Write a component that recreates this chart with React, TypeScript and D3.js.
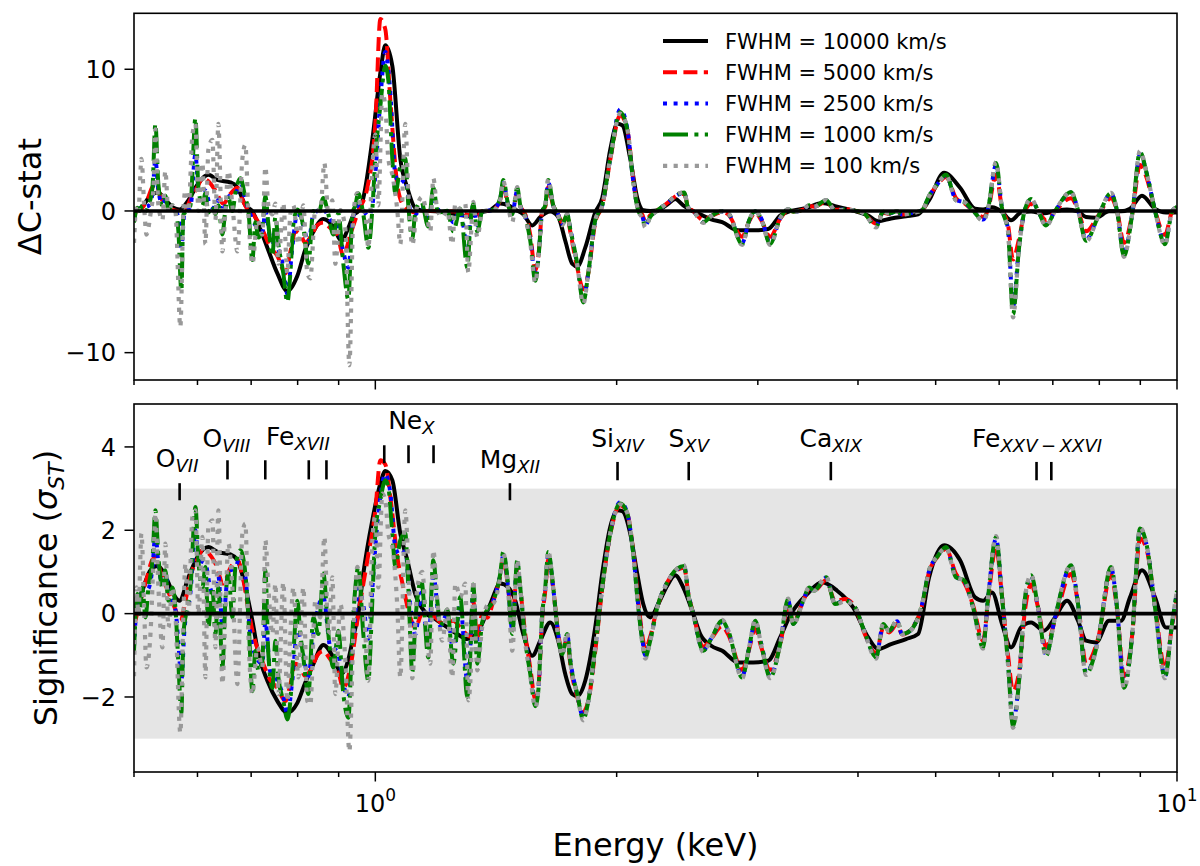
import * as d3 from "d3";

// [energy keV, significance σ]
const BLACK: [number, number][] = [
  [0.5, 0.1], [0.5108, 0.5], [0.5242, 1.04], [0.5348, 1.14], [0.5503, 0.8], [0.5599, 0.47],
  [0.5696, 0.31], [0.5846, 0.87], [0.5999, 1.36], [0.6191, 1.6], [0.6353, 1.48], [0.6595, 1.42],
  [0.6729, 1.29], [0.6885, 0.63], [0.7025, -0.17], [0.7147, -0.97], [0.7334, -1.61], [0.7548, -2.1],
  [0.7767, -2.38], [0.7994, -2.14], [0.8179, -1.65], [0.8369, -1.21], [0.8613, -0.75], [0.8864, -1.05],
  [0.907, -1.45], [0.9254, -1.1], [0.9388, -0.55], [0.9524, 0], [0.9661, 0.96], [0.9914, 2.24],
  [1.0145, 3.12], [1.0291, 3.42], [1.05, 3.2], [1.0744, 1.92], [1.0962, 1.28], [1.1217, 0.47],
  [1.1544, 0.03], [1.188, -0.13], [1.2296, -0.33], [1.2655, -0.49], [1.3023, -0.61], [1.3249, -0.55],
  [1.3518, -0.33], [1.3912, 0.23], [1.4317, 0.72], [1.465, 0.63], [1.4947, 0.31], [1.5295, -0.49],
  [1.5695, -1.01], [1.606, -0.65], [1.6527, -0.21], [1.6911, -0.65], [1.7255, -1.45], [1.7605, -1.93],
  [1.786, -1.98], [1.8275, -1.61], [1.8807, -0.33], [1.9189, 0.96], [1.9635, 2.08], [2.0034, 2.48],
  [2.0324, 2.46], [2.0796, 1.92], [2.1218, 0.96], [2.1587, 0.23], [2.2025, -0.09], [2.2537, 0.23],
  [2.3127, 0.67], [2.3664, 0.92], [2.4213, 0.63], [2.4847, 0.07], [2.5424, -0.49], [2.624, -0.77],
  [2.7082, -0.89], [2.8354, -1.17], [2.9602, -1.17], [3.0904, -1.13], [3.1988, -0.57], [3.3014, 0],
  [3.4566, 0.47], [3.6087, 0.75], [3.7675, 0.55], [3.9446, 0.15], [4.1182, -0.57], [4.2381, -0.85],
  [4.3993, -0.73], [4.5929, -0.61], [4.7538, -0.49], [4.9064, 0.87], [5.1223, 1.64], [5.3631, 1.28],
  [5.599, 0.39], [5.7291, 0.31], [5.8791, 0.51], [6.0503, -0.25], [6.2087, -0.81], [6.3895, -0.33],
  [6.5757, -0.21], [6.8257, -0.41], [7.0447, -0.09], [7.2917, 0.31], [7.5257, -0.17], [7.7005, -0.65],
  [7.9248, -0.69], [8.226, -0.17], [8.5144, -0.17], [8.7373, 0.39], [9.0435, 1.04], [9.3874, 0.39],
  [9.6886, -0.33], [10.0, -0.33],
];

// below ~1.3 keV each narrower width has its own wiggles
const RED_LO: [number, number][] = [
  [0.5, -0.3], [0.5093, 0.3], [0.5197, 0.9], [0.5272, 1.3], [0.5333, 1.36], [0.5394, 1.0],
  [0.5471, 0.7], [0.5551, 0.4], [0.5631, 0.1], [0.5712, -0.17], [0.5796, 0.3], [0.588, 0.9],
  [0.5999, 1.3], [0.6086, 1.52], [0.6191, 1.45], [0.6317, 1.2], [0.6463, 0.72], [0.6595, 1.1],
  [0.6729, 1.28], [0.6846, 0.8], [0.6945, 0.1], [0.7025, -0.41], [0.7147, -0.9], [0.725, -1.21],
  [0.7397, -1.6], [0.7548, -1.78], [0.7723, -2.1], [0.7834, -1.7], [0.7948, -1.2], [0.8063, -1.29],
  [0.8179, -1.5], [0.8297, -1.37], [0.8466, -1.0], [0.8613, -0.9], [0.8788, -1.1], [0.8966, -1.29],
  [0.9122, -1.78], [0.9307, -1.29], [0.9524, 0], [0.9773, 1.28], [1.0, 2.48], [1.0145, 3.68],
  [1.0291, 3.58], [1.044, 2.8], [1.0652, 1.36], [1.0837, 0.63], [1.1057, -0.09], [1.1217, -0.33],
  [1.1445, 0], [1.1644, 0], [1.188, -0.09], [1.2156, -0.25], [1.2511, -0.17], [1.2764, -0.33],
  [1.3136, -0.55],
];

const BLUE_LO: [number, number][] = [
  [0.5, -0.8], [0.5049, 0.3], [0.5123, 0.5], [0.5212, 0.6], [0.5272, 1.1], [0.5317, 1.9],
  [0.5363, 1.2], [0.5425, 0.7], [0.5471, 0.9], [0.5551, 0.4], [0.5631, 0.1], [0.568, -0.7],
  [0.5729, -1.6], [0.5779, -0.4], [0.588, 0.5], [0.5965, 2.0], [0.6016, 1.3], [0.6138, 1.2],
  [0.6227, 0.6], [0.6317, 0.4], [0.6371, 0.9], [0.6445, -0.3], [0.6557, 1.0], [0.669, 1.1],
  [0.6787, 1.4], [0.6885, 0.9], [0.6985, -0.5], [0.7086, -1.0], [0.7229, -1.2], [0.7292, -0.2],
  [0.7397, -1.4], [0.7548, -1.6], [0.7678, -2.0], [0.7767, -2.42], [0.7879, -1.6], [0.7994, -0.4],
  [0.8132, -1.0], [0.825, -1.5], [0.8369, -0.5], [0.8613, 0.4], [0.8788, -0.8], [0.8966, -0.9],
  [0.9122, -1.7], [0.9254, -2.0], [0.9388, -0.6], [0.9524, 0.6], [0.9661, 0.2], [0.9801, -0.6],
  [0.9914, 0.6], [1.0, 1.6], [1.0145, 2.8], [1.0291, 3.35], [1.044, 2.9], [1.0591, 1.6],
  [1.0744, 1.4], [1.0899, 1.5], [1.1057, 0.2], [1.1217, -0.5], [1.1412, 0.5], [1.1644, -0.7],
  [1.1812, 0.9], [1.2052, -0.3], [1.2296, 0], [1.2511, -0.9], [1.2764, 0.2], [1.3023, -1.6],
  [1.3136, -0.8],
];

const GREEN_LO: [number, number][] = [
  [0.5, -0.9], [0.5049, 0.47], [0.5079, 0], [0.5123, 0.63], [0.5167, -0.09], [0.5212, 0.63],
  [0.5272, 1.28], [0.5317, 2.48], [0.5363, 1.36], [0.5425, 0.63], [0.5471, 1.04], [0.5519, 0.31],
  [0.5583, 0.63], [0.5631, 0.15], [0.568, -1.2], [0.5729, -2.38], [0.5762, -0.49], [0.5829, 0.15],
  [0.588, 0.63], [0.5965, 2.56], [0.6016, 1.28], [0.6086, 0.63], [0.6138, 1.12], [0.6191, -0.33],
  [0.6263, 0.63], [0.6317, -0.49], [0.6371, 0.63], [0.6445, -1.29], [0.6501, 0.31], [0.6557, 0.96],
  [0.6633, -0.09], [0.669, 1.12], [0.6787, 1.52], [0.6885, 0.96], [0.6945, -0.09], [0.7025, -1.86],
  [0.7086, -0.89], [0.7147, -1.37], [0.7229, -1.13], [0.7292, 1.04], [0.7355, -0.97], [0.744, -1.78],
  [0.7505, -0.65], [0.757, -1.53], [0.7678, -2.1], [0.7767, -2.54], [0.7834, -2.1], [0.7903, -0.97],
  [0.7994, 0.31], [0.8063, -0.49], [0.8132, -1.05], [0.825, -1.93], [0.8369, -0.09], [0.849, -0.49],
  [0.8613, 0.96], [0.8738, -0.49], [0.8864, -1.29], [0.8992, -0.41], [0.9122, -1.93], [0.9254, -2.5],
  [0.9361, -0.49], [0.9442, 0.63], [0.9524, 1.12], [0.9661, -0.49], [0.9801, -1.61], [0.9914, 0.31],
  [1.0, 1.92], [1.0145, 2.72], [1.0291, 3.2], [1.038, 3.04], [1.05, 1.92], [1.0591, 1.12],
  [1.0744, 1.76], [1.0899, 1.92], [1.0994, 0.63], [1.1121, -1.4], [1.1217, -0.2], [1.1412, 0.8],
  [1.1644, -1.05], [1.1812, 1.28], [1.1948, 0.31], [1.2052, -0.3], [1.2296, 0.1], [1.2511, -1.2],
  [1.2764, 0.4], [1.3023, -2.0], [1.3136, -1.0],
];

const GRAY_LO: [number, number][] = [
  [0.5, -1.5], [0.5035, 0.63], [0.5064, 0], [0.5108, 1.92], [0.5152, -0.1], [0.5182, -1.29],
  [0.5242, -0.49], [0.5287, 1.28], [0.5317, 2.4], [0.5363, 0.63], [0.5425, -0.81], [0.5471, 1.68],
  [0.5519, -0.33], [0.5583, 0.63], [0.5631, 0], [0.5712, -2.86], [0.5762, 0], [0.5796, 1.2],
  [0.5846, 0], [0.5914, 2.32], [0.5965, 2.48], [0.6016, 0], [0.6086, 1.84], [0.6138, -1.53],
  [0.6191, 2.08], [0.6263, 2.24], [0.6317, -0.81], [0.6371, 2.48], [0.6445, -1.69], [0.6501, 0],
  [0.6557, 1.68], [0.6633, 0.63], [0.6729, -1.69], [0.6826, 1.92], [0.6885, 2.16], [0.6945, -0.49],
  [0.7025, -1.93], [0.7127, -0.81], [0.7229, -1.29], [0.7292, 1.76], [0.7355, 0.63], [0.744, -0.49],
  [0.7505, 0.72], [0.757, -1.93], [0.7678, 0.75], [0.7767, -2.1], [0.7834, -0.49], [0.7903, 0.63],
  [0.8017, -1.53], [0.8132, 0.63], [0.8226, -2.1], [0.8297, -2.18], [0.8417, 0.31], [0.8539, -0.09],
  [0.8638, 1.84], [0.8738, -0.49], [0.8839, 0.87], [0.8915, -1.93], [0.9044, 0.23], [0.9175, -1.13],
  [0.9281, -3.3], [0.9388, -0.49], [0.9497, 1.12], [0.9579, 0.63], [0.9717, -0.49], [0.9801, -1.61],
  [0.9914, 1.76], [1.0, 2.32], [1.0087, 0.63], [1.0203, 2.88], [1.0291, 2.72], [1.038, 1.92],
  [1.05, 1.6], [1.0652, 0.15], [1.0744, -1.53], [1.0899, 2.48], [1.0994, 1.12], [1.1121, -1.55],
  [1.1282, 0.63], [1.1445, 1.0], [1.1577, -0.3], [1.1711, -1.2], [1.1812, 1.52], [1.1948, 0.31],
  [1.2121, -0.65], [1.2296, 0.1], [1.2475, -1.53], [1.2582, 0.72], [1.2764, 0.4], [1.2948, 0.72],
  [1.306, -2.08], [1.3211, -0.4],
];

// above ~1.3 keV the narrower widths share one energy grid
const E_HI = [
  1.3249, 1.3402, 1.3596, 1.3793, 1.4033, 1.4317, 1.4441, 1.465, 1.4819, 1.5033,
  1.5163, 1.5383, 1.5605, 1.5831, 1.5968, 1.6152, 1.6292, 1.6433, 1.6671, 1.6863,
  1.7107, 1.7354, 1.7504, 1.786, 1.8172, 1.8434, 1.8807, 1.9189, 1.9635, 2.0207,
  2.0617, 2.0975, 2.1279, 2.1525, 2.1711, 2.2025, 2.2473, 2.3127, 2.38, 2.4282,
  2.4563, 2.4918, 2.5644, 2.624, 2.7082, 2.7552, 2.8682, 2.9264, 2.9772, 3.029,
  3.1082, 3.1988, 3.2731, 3.3204, 3.4172, 3.4766, 3.5269, 3.6505, 3.7459, 3.855,
  3.9673, 4.0712, 4.2139, 4.3, 4.3741, 4.4761, 4.5408, 4.6463, 4.8092, 4.9064,
  5.0203, 5.1518, 5.3019, 5.425, 5.567, 5.7291, 5.8119, 5.9469, 6.0503, 6.1554,
  6.2444, 6.353, 6.4634, 6.5757, 6.7091, 6.865, 7.0447, 7.3759, 7.5257, 7.7005,
  7.9705, 8.2734, 8.4172, 8.5881, 8.7876, 8.9929, 9.1755, 9.3874, 9.6607, 9.8568,
  10.0,
];

const RED_HI = [
  0.3, -0.6, 0.0, -0.1, 0.3, 0.9, 1.3, 0.6, -0.3, 1.1,
  0.6, -0.5, -1.3, -2.05, -1.8, -0.1, 0.55, 1.3, 0.6, -0.3,
  -0.9, -0.6, -1.2, -2.0, -2.35, -2.1, -0.9, 0.6, 1.9, 2.6,
  2.4, 1.5, 0.3, -0.5, -0.85, -0.55, 0.15, 0.75, 1.05, 1.1,
  0.5, 0, -0.8, -0.6, -0.3, -0.5, -1.35, -0.85, -0.35, -0.8,
  -1.35, -0.75, 0.2, -0.2, 0.3, 0.6, 0.55, 0.8, 0.3, 0.35,
  0.15, -0.45, -0.95, -0.35, -0.45, -0.25, -0.5, -0.4, 0.2, 1.0,
  1.35, 1.55, 0.95, 0.75, 0.2, -0.65, 0.3, 1.6, 0.4, -1.0,
  -1.85, -1.4, 0.1, 0.7, 0.15, -0.8, -0.15, 0.95, 0.25, -1.2,
  -0.6, 0.95, 0.1, -1.5, -0.55, 1.8, 1.5, 0.2, -1.3, -0.3,
  0.4,
];

const BLUE_HI = [
  0.6, -1.0, -0.2, 0.1, 0.3, 0.95, 1.4, 0.6, -0.4, 1.2,
  0.6, -0.6, -1.4, -2.15, -1.85, 0, 0.6, 1.42, 0.6, -0.3,
  -0.95, -0.5, -1.1, -1.95, -2.48, -2.1, -0.82, 0.62, 1.92, 2.68,
  2.42, 1.45, 0.2, -0.6, -1.0, -0.62, 0.15, 0.75, 1.06, 1.14,
  0.5, 0, -0.88, -0.6, -0.2, -0.42, -1.5, -0.82, -0.2, -0.72,
  -1.5, -0.72, 0.32, -0.24, 0.3, 0.62, 0.55, 0.86, 0.24, 0.32,
  0.15, -0.42, -1.02, -0.28, -0.42, -0.18, -0.5, -0.41, 0.23, 1.02,
  1.36, 1.58, 0.88, 0.78, 0.15, -0.78, 0.38, 1.8, 0.4, -1.15,
  -2.6, -1.58, 0.35, 0.9, 0.15, -0.98, -0.1, 1.14, 0.24, -1.42,
  -0.64, 1.1, 0.14, -1.74, -0.56, 2.0, 1.6, 0.16, -1.5, -0.26,
  0.52,
];

const GREEN_HI = [
  0.7, -1.2, -0.2, 0.1, 0.31, 0.96, 1.48, 0.63, -0.49, 1.28,
  0.63, -0.65, -1.45, -2.22, -1.86, 0, 0.63, 1.48, 0.63, -0.33,
  -0.97, -0.49, -1.13, -1.93, -2.54, -2.1, -0.81, 0.63, 1.92, 2.64,
  2.4, 1.44, 0.15, -0.65, -1.05, -0.65, 0.15, 0.75, 1.08, 1.14,
  0.47, 0, -0.89, -0.6, -0.17, -0.41, -1.53, -0.81, -0.17, -0.73,
  -1.53, -0.73, 0.35, -0.25, 0.31, 0.63, 0.55, 0.87, 0.23, 0.31,
  0.15, -0.41, -1.05, -0.25, -0.41, -0.17, -0.49, -0.41, 0.23, 1.04,
  1.36, 1.6, 0.87, 0.8, 0.15, -0.81, 0.39, 1.84, 0.39, -1.21,
  -2.7, -1.61, 0.39, 0.92, 0.15, -1.01, -0.09, 1.16, 0.23, -1.45,
  -0.65, 1.12, 0.15, -1.78, -0.57, 2.04, 1.6, 0.15, -1.53, -0.25,
  0.55,
];

const GRAY_HI = [
  0.8, -1.36, -0.3, 0.2, 0.25, 0.9, 1.45, 0.5, -0.89, 1.3,
  0.6, -0.7, -1.5, -2.25, -1.85, 0.05, 0.65, 1.5, 0.6, -0.4,
  -1.0, -0.45, -1.15, -1.95, -2.56, -2.1, -0.8, 0.63, 1.93, 2.62,
  2.42, 1.45, 0.12, -0.7, -1.08, -0.66, 0.15, 0.74, 1.08, 1.16,
  0.46, -0.02, -0.92, -0.6, -0.15, -0.4, -1.55, -0.8, -0.15, -0.75,
  -1.55, -0.72, 0.36, -0.26, 0.3, 0.64, 0.55, 0.88, 0.22, 0.3,
  0.14, -0.42, -1.08, -0.24, -0.42, -0.16, -0.5, -0.42, 0.22, 1.03,
  1.37, 1.58, 0.86, 0.8, 0.14, -0.84, 0.4, 1.86, 0.38, -1.22,
  -2.74, -1.62, 0.4, 0.93, 0.14, -1.03, -0.08, 1.17, 0.22, -1.47,
  -0.66, 1.13, 0.14, -1.8, -0.56, 2.06, 1.6, 0.14, -1.55, -0.24,
  0.56,
];

const LEGEND = [
  "FWHM = 10000 km/s",
  "FWHM = 5000 km/s",
  "FWHM = 2500 km/s",
  "FWHM = 1000 km/s",
  "FWHM = 100 km/s",
];

// line identifications in the lower panel
const ION_ELEMENT = ["O", "O", "Fe", "Ne", "Mg", "Si", "S", "Ca", "Fe"];
const ION_STAGE = ["VII", "VIII", "XVII", "X", "XII", "XIV", "XV", "XIX", "XXV\u2009\u2212\u2009XXVI"];
const ION_LABEL_E = [0.566, 0.652, 0.8005, 1.109, 1.472, 2.005, 2.46, 3.7, 6.69];
const ION_LABEL_SIG = [3.52, 4.0, 4.04, 4.42, 3.49, 4.0, 4.0, 4.0, 4.0];
const LINE_E = [0.57, 0.654, 0.729, 0.826, 0.869, 1.026, 1.1, 1.182, 1.472, 2.005, 2.46, 3.7, 6.68, 6.97];
const LINE_SIG_LO = [2.72, 3.22, 3.22, 3.22, 3.22, 3.61, 3.61, 3.61, 2.72, 3.2, 3.2, 3.2, 3.2, 3.2];
const LINE_SIG_HI = [3.13, 3.68, 3.68, 3.68, 3.68, 4.04, 4.04, 4.04, 3.13, 3.64, 3.64, 3.64, 3.64, 3.64];

const TOP_TICKS = [-10, 0, 10];
const BOT_TICKS = [-2, 0, 2, 4];

const X0 = 134;
const X1 = 1177;
const FONT = "DejaVu Sans";

const STYLES = [
  { color: "#000000", dash: undefined, width: 4 },
  { color: "#ff0000", dash: "14 6.4", width: 4 },
  { color: "#0000ff", dash: "4 6.6", width: 4 },
  { color: "#008000", dash: "25 6.4 4 6.4", width: 4 },
  { color: "#999999", dash: "4.2 6.4", width: 4.2 },
];

type Pt = [number, number];

export default function App() {
  const x = d3.scaleLog().domain([0.5, 10]).range([X0, X1]);
  const yTop = d3.scaleLinear().domain([-11.93, 13.95]).range([380, 13.3]);
  const yBot = d3.scaleLinear().domain([-3.8, 5.03]).range([772, 404]);

  const hi = (vals: number[]): Pt[] => E_HI.map((e, i) => [e, vals[i]] as Pt);
  const sig: Pt[][] = [
    BLACK,
    RED_LO.concat(hi(RED_HI)),
    BLUE_LO.concat(hi(BLUE_HI)),
    GREEN_LO.concat(hi(GREEN_HI)),
    GRAY_LO.concat(hi(GRAY_HI)),
  ];
  // ΔC-stat = sign·σ², the same fits shown in the other unit
  const dc: Pt[][] = sig.map((s) => s.map((p) => [p[0], Math.sign(p[1]) * p[1] * p[1]] as Pt));

  const lineFor = (y: d3.ScaleLinear<number, number>) =>
    d3
      .line<Pt>()
      .x((d) => x(d[0]))
      .y((d) => y(d[1]))
      .curve(d3.curveMonotoneX);
  const lineTop = lineFor(yTop);
  const lineBot = lineFor(yBot);

  const xTicks = x.ticks();
  const isMajor = (t: number) => Math.abs(Math.log10(t) - Math.round(Math.log10(t))) < 1e-9;

  const frame = (y: d3.ScaleLinear<number, number>, ticks: number[], key: string, labels: boolean) => {
    const [r0, r1] = y.range();
    return (
      <g key={key}>
        <rect x={X0} y={r1} width={X1 - X0} height={r0 - r1} fill="none" stroke="#000" strokeWidth={1.6} />
        {xTicks.map((t) => (
          <line
            key={"x" + t}
            x1={x(t)}
            x2={x(t)}
            y1={r0}
            y2={r0 + (isMajor(t) ? 9.5 : 5)}
            stroke="#000"
            strokeWidth={1.5}
          />
        ))}
        {labels &&
          xTicks.filter(isMajor).map((t) => (
            <text key={"xl" + t} x={x(t)} y={812} textAnchor="middle" fontSize={24} fontFamily={FONT}>
              10
              <tspan fontSize={17} dy={-11}>
                {Math.round(Math.log10(t))}
              </tspan>
            </text>
          ))}
        {ticks.map((t) => (
          <g key={"y" + t}>
            <line x1={X0 - 9.5} x2={X0} y1={y(t)} y2={y(t)} stroke="#000" strokeWidth={1.5} />
            <text x={116} y={y(t)} dy="0.36em" textAnchor="end" fontSize={24} fontFamily={FONT}>
              {t < 0 ? "\u2212" + Math.abs(t) : String(t)}
            </text>
          </g>
        ))}
      </g>
    );
  };

  const curves = (data: Pt[][], gen: d3.Line<Pt>, clip: string) => (
    <g clipPath={`url(#${clip})`}>
      {data.map((d, i) => (
        <path
          key={i}
          d={gen(d) ?? ""}
          fill="none"
          stroke={STYLES[i].color}
          strokeWidth={STYLES[i].width}
          strokeDasharray={STYLES[i].dash}
          strokeLinejoin="round"
          strokeLinecap="butt"
        />
      ))}
    </g>
  );

  return (
    <div style={{ position: "absolute", left: 0, top: 0 }}>
      <svg width={1200} height={866} viewBox="0 0 1200 866" style={{ display: "block", background: "#fff" }}>
        <defs>
          <clipPath id="clipTop">
            <rect x={X0} y={13.3} width={X1 - X0} height={380 - 13.3} />
          </clipPath>
          <clipPath id="clipBot">
            <rect x={X0} y={404} width={X1 - X0} height={772 - 404} />
          </clipPath>
        </defs>

        {/* upper panel */}
        {curves(dc, lineTop, "clipTop")}
        <line x1={X0} x2={X1} y1={yTop(0)} y2={yTop(0)} stroke="#000" strokeWidth={3.6} />
        {frame(yTop, TOP_TICKS, "ftop", false)}
        <text
          transform={`translate(41,${(13.3 + 380) / 2}) rotate(-90)`}
          textAnchor="middle"
          fontSize={32}
          fontFamily={FONT}
        >
          ΔC-stat
        </text>

        {LEGEND.map((name, i) => {
          const cy = 41 + i * 31.2;
          return (
            <g key={name}>
              <line
                x1={663}
                x2={708}
                y1={cy}
                y2={cy}
                stroke={STYLES[i].color}
                strokeWidth={STYLES[i].width}
                strokeDasharray={STYLES[i].dash}
              />
              <text x={725} y={cy + 7.5} fontSize={21} fontFamily={FONT}>
                {name}
              </text>
            </g>
          );
        })}

        {/* lower panel */}
        <rect x={X0} y={yBot(3)} width={X1 - X0} height={yBot(-3) - yBot(3)} fill="#e5e5e5" />
        {curves(sig, lineBot, "clipBot")}
        <line x1={X0} x2={X1} y1={yBot(0)} y2={yBot(0)} stroke="#000" strokeWidth={3.6} />
        {LINE_E.map((e, i) => (
          <line
            key={"l" + i}
            x1={x(e)}
            x2={x(e)}
            y1={yBot(LINE_SIG_LO[i])}
            y2={yBot(LINE_SIG_HI[i])}
            stroke="#000"
            strokeWidth={2.6}
          />
        ))}
        {ION_ELEMENT.map((el, i) => (
          <text
            key={"i" + i}
            x={x(ION_LABEL_E[i])}
            y={yBot(ION_LABEL_SIG[i])}
            textAnchor="middle"
            fontSize={25}
            fontFamily={FONT}
          >
            {el}
            <tspan fontSize={18} fontStyle="italic" dy={5}>
              {ION_STAGE[i]}
            </tspan>
          </text>
        ))}
        {frame(yBot, BOT_TICKS, "fbot", true)}
        <text
          transform={`translate(57,${(404 + 772) / 2}) rotate(-90)`}
          textAnchor="middle"
          fontSize={32}
          fontFamily={FONT}
        >
          Significance (
          <tspan fontStyle="italic">σ</tspan>
          <tspan fontStyle="italic" fontSize={22} dy={7}>
            ST
          </tspan>
          <tspan dy={-7}>)</tspan>
        </text>

        <text x={(X0 + X1) / 2} y={856} textAnchor="middle" fontSize={32} fontFamily={FONT}>
          Energy (keV)
        </text>
      </svg>
    </div>
  );
}
